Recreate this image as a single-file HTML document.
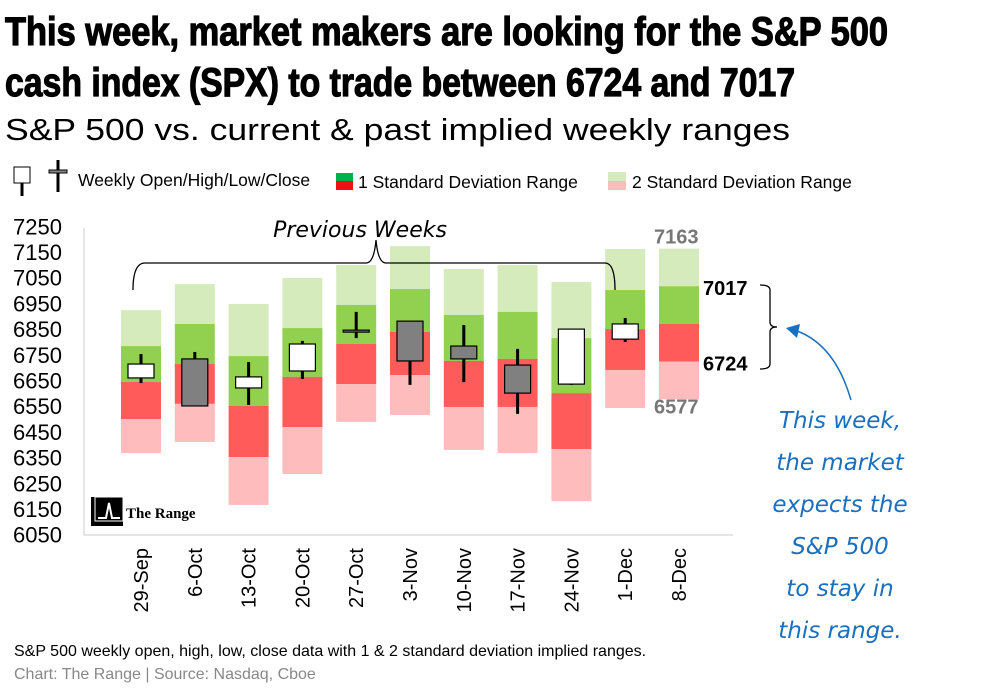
<!DOCTYPE html>
<html><head><meta charset="utf-8"><style>
body{margin:0;background:#fff}
svg{display:block;font-family:"Liberation Sans",sans-serif}
</style></head><body>
<svg id="chart" width="1007" height="700" viewBox="0 0 1007 700">
<text x="5" y="45" font-family="Liberation Sans Narrow, Liberation Sans, sans-serif" font-weight="bold" font-size="40" stroke="#000" stroke-width="1.2" textLength="883" lengthAdjust="spacingAndGlyphs">This week, market makers are looking for the S&amp;P 500</text>
<text x="5" y="96" font-family="Liberation Sans Narrow, Liberation Sans, sans-serif" font-weight="bold" font-size="40" stroke="#000" stroke-width="1.2" textLength="790" lengthAdjust="spacingAndGlyphs">cash index (SPX) to trade between  6724 and 7017</text>
<text x="5" y="140" font-size="31" textLength="785" lengthAdjust="spacingAndGlyphs">S&amp;P 500 vs. current &amp; past implied weekly ranges</text>
<g>
<line x1="22" y1="175" x2="22" y2="196" stroke="#000" stroke-width="3"/>
<rect x="14" y="167" width="16" height="16" fill="#fff" stroke="#000"/>
<line x1="58" y1="160" x2="58" y2="192" stroke="#000" stroke-width="3"/>
<rect x="49" y="170" width="18" height="3" fill="#888" stroke="#000" stroke-width="1"/>
<text x="78" y="186" font-size="17.5">Weekly Open/High/Low/Close</text>
<rect x="336" y="173" width="17" height="8" fill="#00b050"/><rect x="336" y="181" width="17" height="9" fill="#ee1111"/>
<text x="358" y="188" font-size="17.5">1 Standard Deviation Range</text>
<rect x="608" y="172" width="18" height="9" fill="#d5ebbb"/><rect x="608" y="181" width="18" height="9" fill="#ffbcbc"/>
<text x="632" y="188" font-size="17.5">2 Standard Deviation Range</text>
</g>
<g id="plot"></g>
<g>
<path d="M133,290 Q133,263 145,263 L366,263 Q374,263 376,240 Q378,263 386,263 L605,263 Q615,263 615,290" fill="none" stroke="#000" stroke-width="1.3"/>
<text x="360" y="237" font-family="DejaVu Sans, sans-serif" font-style="italic" font-size="22" text-anchor="middle">Previous Weeks</text>
</g>
<g>
<path d="M760,285 Q770,285 770,290 L770,322 Q770,327 777,327 Q770,327 770,332 L770,364 Q770,369 760,369" fill="none" stroke="#000" stroke-width="1.3"/>
<path d="M851,400 Q835,345 797,331" fill="none" stroke="#1a6fbf" stroke-width="1.5"/>
<polygon points="786,328 800,324 797,338" fill="#1a6fbf"/>
<g font-family="DejaVu Sans, sans-serif" font-style="italic" font-size="23" fill="#1a6fbf" text-anchor="middle">
<text x="840" y="428">This week,</text><text x="840" y="470">the market</text><text x="840" y="512">expects the</text><text x="840" y="554">S&amp;P 500</text><text x="840" y="596">to stay in</text><text x="840" y="638">this range.</text>
</g>
</g>
<g>
<rect x="91" y="497" width="32" height="29" fill="#000"/>
<rect x="95" y="497" width="28" height="24" fill="#000" stroke="#fff" stroke-width="1"/>
<path d="M98,518 L106,518 L109,503 L112,518 L120,518" fill="none" stroke="#fff" stroke-width="2"/>
<text x="126" y="518" font-family="Liberation Serif, serif" font-weight="bold" font-size="15">The Range</text>
</g>
<text x="14" y="656" font-size="16">S&amp;P 500 weekly open, high, low, close data with  1 &amp; 2 standard deviation implied ranges.</text>
<text x="14" y="679" font-size="16" fill="#888">Chart: The Range | Source: Nasdaq, Cboe</text>
</svg>
<script>
const weeks=["29-Sep","6-Oct","13-Oct","20-Oct","27-Oct","3-Nov","10-Nov","17-Nov","24-Nov","1-Dec","8-Dec"];
const sd2Top=[6924,7025,6948,7049,7099,7173,7084,7099,7033,7162,7163];
const sd1Top=[6784,6870,6745,6854,6944,7006,6905,6917,6815,7002,7017];
const midVal=[6644,6714,6551,6664,6792,6839,6726,6734,6601,6850,6870];
const sd1Bot=[6500,6559,6352,6469,6636,6671,6547,6547,6383,6691,6724];
const sd2Bot=[6368,6411,6166,6286,6489,6516,6380,6368,6181,6543,6577];
const openV=[6660,6734,6621,6687,6846,6881,6784,6710,6636,6811,null];
const highV=[6753,6761,6722,6804,6917,6881,6866,6773,6850,6893,null];
const lowV=[6640,6551,6555,6656,6815,6633,6644,6520,6633,6800,null];
const closeV=[6714,6551,6664,6792,6839,6726,6734,6601,6850,6870,null];
const yTicks=[7250,7150,7050,6950,6850,6750,6650,6550,6450,6350,6250,6150,6050];
const NS="http://www.w3.org/2000/svg";
const g=document.getElementById('plot');
const y=v=>252+(7150-v)*0.257;
const x=i=>141+i*53.8;
function mk(t,a){const e=document.createElementNS(NS,t);for(const k in a)e.setAttribute(k,a[k]);g.appendChild(e);return e;}
const fr=mk('path',{d:'M84,228 L84,535 L733,535',fill:'none',stroke:'#ddd','stroke-width':1.5});


yTicks.forEach(v=>{const t=mk('text',{x:62,y:y(v)+8,'font-size':22,'text-anchor':'end'});t.textContent=v;

});
weeks.forEach((w,i)=>{
 const cx=x(i),bw=40;
 const segs=[[sd2Top[i],sd1Top[i],'#d5ebbb'],[sd1Top[i],midVal[i],'#92d050'],[midVal[i],sd1Bot[i],'#ff5b5b'],[sd1Bot[i],sd2Bot[i],'#ffbcbc']];
 segs.forEach(s=>{const r=mk('rect',{x:cx-bw/2,y:y(s[0]),width:bw,height:y(s[1])-y(s[0]),fill:s[2]});
 
 });
 const t=mk('text',{transform:`translate(${cx+7},548) rotate(-90)`,'font-size':20,'text-anchor':'end'});t.textContent=w;
 
 
 if(openV[i]!=null){
  const wk=mk('line',{x1:cx,x2:cx,y1:y(highV[i]),y2:y(lowV[i]),stroke:'#000','stroke-width':3});
  
  
  const top=Math.max(openV[i],closeV[i]),bot=Math.min(openV[i],closeV[i]);
  const b=mk('rect',{x:cx-13,y:y(top),width:26,height:Math.max(2,y(bot)-y(top)),fill:closeV[i]>=openV[i]?'#fff':'#808080',stroke:'#000','stroke-width':1.2});
  
  
 }
});
const L=weeks.length-1;
[[sd2Top[L],'#777',-5],[sd2Bot[L],'#777',14],[sd1Top[L],'#000',9],[sd1Bot[L],'#000',9]].forEach((d,k)=>{
 const t=mk('text',{x:k<2?x(L)-25:703,y:y(d[0])+d[2],'font-size':20,'font-weight':'bold',fill:d[1]});t.textContent=d[0];
 
 });
</script>
</body></html>
